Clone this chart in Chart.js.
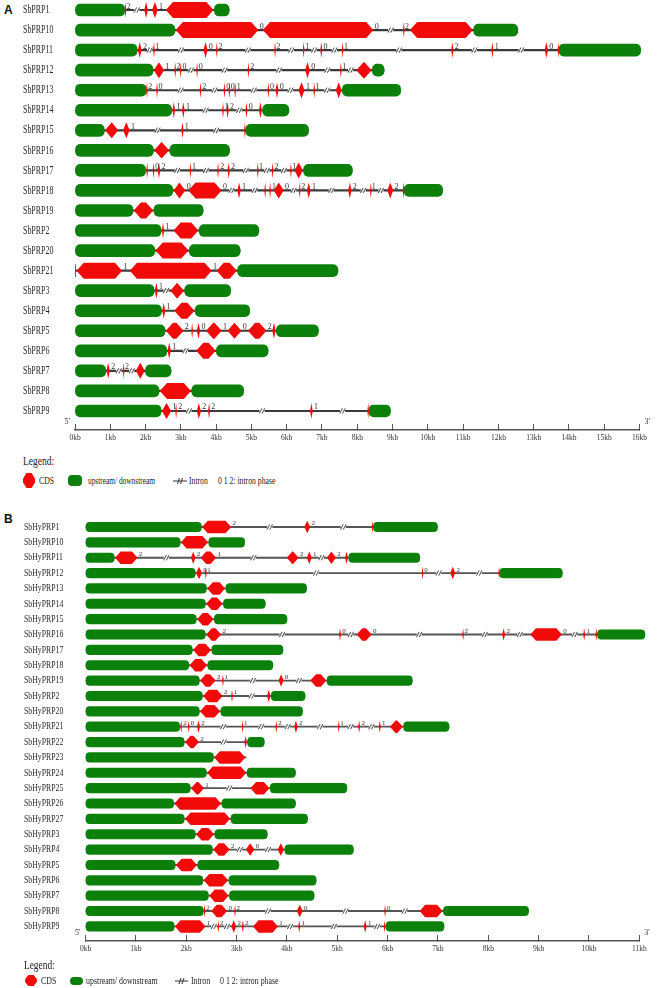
<!DOCTYPE html>
<html>
<head>
<meta charset="utf-8">
<title>SbPRP / SbHyPRP gene structures</title>
<script src="https://cdn.jsdelivr.net/npm/chart.js@4.4.1/dist/chart.umd.min.js"></script>
<style>
  body { margin: 0; background: #fff; }
  #page { position: relative; width: 657px; height: 988px; overflow: hidden; font-family: 'Liberation Serif', 'Times New Roman', serif; color: #222; }
  canvas { position: absolute; left: 0; }
  .tag { position: absolute; left: 4px; font: bold 12px 'Liberation Sans', Arial, sans-serif; color: #111; line-height: 1; }
  .t { position: absolute; white-space: nowrap; transform-origin: 0 50%; line-height: 1; color: #222; }
  .hex { position: absolute; background: #f20a0a; clip-path: polygon(28% 0, 72% 0, 100% 38%, 100% 62%, 72% 100%, 28% 100%, 0 62%, 0 38%); }
  .utr { position: absolute; background: #0b800b; border-radius: 4px; }
  .intr { position: absolute; }
</style>
</head>
<body>
<div id="page">
  <div class="tag" style="top:4px">A</div>
  <canvas id="chartA" width="657" height="448" style="top:0"></canvas>

  <div class="t" style="left:23px;top:454px;font-size:13px;transform:scaleX(.73)">Legend:</div>
  <div class="hex" style="left:23px;top:473px;width:12px;height:15px"></div>
  <div class="t" style="left:39px;top:475px;font-size:11px;transform:scaleX(.7)">CDS</div>
  <div class="utr" style="left:68px;top:475px;width:14px;height:11px"></div>
  <div class="t" style="left:88px;top:475px;font-size:11px;transform:scaleX(.67)">upstream/ downstream</div>
  <svg class="intr" style="left:173px;top:477px" width="14" height="8"><line x1="0" y1="4" x2="14" y2="4" stroke="#333" stroke-width="1"/><line x1="4.5" y1="7" x2="6.5" y2="1" stroke="#333"/><line x1="7.5" y1="7" x2="9.5" y2="1" stroke="#333"/></svg>
  <div class="t" style="left:189px;top:475px;font-size:11px;transform:scaleX(.7)">Intron</div>
  <div class="t" style="left:218px;top:475px;font-size:11px;transform:scaleX(.7)">0 1 2: intron phase</div>

  <div class="tag" style="top:513px">B</div>
  <canvas id="chartB" width="657" height="454" style="top:505px"></canvas>

  <div class="t" style="left:24px;top:959px;font-size:12px;transform:scaleX(.78)">Legend:</div>
  <div class="hex" style="left:25px;top:975px;width:12px;height:11px"></div>
  <div class="t" style="left:41px;top:976px;font-size:10.5px;transform:scaleX(.75)">CDS</div>
  <div class="utr" style="left:70px;top:977px;width:13px;height:8px"></div>
  <div class="t" style="left:86px;top:976px;font-size:10.5px;transform:scaleX(.75)">upstream/ downstream</div>
  <svg class="intr" style="left:175px;top:977px" width="13" height="8"><line x1="0" y1="4" x2="13" y2="4" stroke="#333" stroke-width="1"/><line x1="4" y1="7" x2="6" y2="1" stroke="#333"/><line x1="7" y1="7" x2="9" y2="1" stroke="#333"/></svg>
  <div class="t" style="left:191px;top:976px;font-size:10.5px;transform:scaleX(.75)">Intron</div>
  <div class="t" style="left:220px;top:976px;font-size:10.5px;transform:scaleX(.75)">0 1 2: intron phase</div>
</div>

<script>
// ---- panel A : SbPRP genes (positions in kb) ----
const namesA = ['SbPRP1', 'SbPRP10', 'SbPRP11', 'SbPRP12', 'SbPRP13', 'SbPRP14', 'SbPRP15', 'SbPRP16', 'SbPRP17', 'SbPRP18',
  'SbPRP19', 'SbPRP2', 'SbPRP20', 'SbPRP21', 'SbPRP3', 'SbPRP4', 'SbPRP5', 'SbPRP6', 'SbPRP7', 'SbPRP8', 'SbPRP9'];

const utrA = [
  [[0, 1.41], [3.95, 4.37]],
  [[0, 2.83], [11.30, 12.55]],
  [[0, 1.76], [13.72, 16.03]],
  [[0, 2.21], [8.43, 8.76]],
  [[0, 2.02], [7.58, 9.23]],
  [[0, 2.74], [5.32, 6.06]],
  [[0, 0.83], [4.84, 6.62]],
  [[0, 2.22], [2.69, 4.38]],
  [[0, 2.00], [6.48, 7.86]],
  [[0, 2.77], [9.33, 10.42]],
  [[0, 1.64], [2.24, 3.63]],
  [[0, 2.44], [3.52, 5.21]],
  [[0, 2.26], [3.24, 4.68]],
  [[0, 0.02], [4.61, 7.45]],
  [[0, 2.24], [3.11, 4.41]],
  [[0, 2.45], [3.41, 4.95]],
  [[0, 2.55], [5.71, 6.90]],
  [[0, 2.60], [4.01, 5.47]],
  [[0, 0.87], [2.00, 2.72]],
  [[0, 2.38], [3.31, 4.78]],
  [[0, 2.44], [8.33, 8.94]]
];

const cdsA = [
  [[1.41, 1.45], [1.94, 2.09], [2.16, 2.37], [2.55, 3.95]],
  [[2.83, 5.22], [5.30, 8.48], [9.30, 9.34], [9.47, 11.30]],
  [[1.76, 1.91], [2.21, 2.27], [3.62, 3.78], [3.99, 4.05], [5.64, 5.70], [6.45, 6.51], [6.93, 7.03], [7.56, 7.61], [10.64, 10.75], [11.78, 11.88], [13.29, 13.43], [13.68, 13.72]],
  [[2.21, 2.55], [2.82, 2.86], [2.96, 3.03], [3.43, 3.49], [4.88, 4.95], [6.50, 6.68], [7.51, 7.56], [7.95, 8.43]],
  [[2.02, 2.06], [2.30, 2.35], [3.52, 3.59], [4.20, 4.27], [4.35, 4.40], [4.51, 4.57], [5.45, 5.51], [5.66, 5.79], [6.31, 6.53], [6.76, 6.80], [7.37, 7.58]],
  [[2.74, 2.86], [3.01, 3.13], [4.16, 4.23], [4.27, 4.38], [4.81, 4.91], [5.19, 5.32]],
  [[0.83, 1.25], [1.34, 1.57], [2.99, 3.10], [4.79, 4.84]],
  [[2.22, 2.69]],
  [[2.00, 2.09], [2.19, 2.26], [2.32, 2.44], [3.24, 3.30], [4.01, 4.10], [4.30, 4.41], [5.16, 5.20], [5.56, 5.64], [6.09, 6.15], [6.20, 6.48]],
  [[2.77, 3.15], [3.19, 4.18], [4.58, 4.72], [5.35, 5.43], [5.49, 5.57], [5.61, 5.94], [6.34, 6.40], [6.55, 6.70], [7.72, 7.86], [8.37, 8.40], [8.83, 9.04], [9.29, 9.33]],
  [[1.64, 2.24]],
  [[2.44, 2.55], [2.77, 3.52]],
  [[2.26, 3.24]],
  [[0.02, 1.36], [1.53, 3.90], [3.99, 4.61]],
  [[2.24, 2.37], [2.68, 3.11]],
  [[2.45, 2.58], [2.79, 3.41]],
  [[2.55, 3.10], [3.30, 3.34], [3.43, 3.57], [3.69, 4.18], [4.30, 4.74], [4.88, 5.45], [5.57, 5.71]],
  [[2.60, 2.74], [3.41, 4.01]],
  [[0.87, 1.01], [1.36, 1.40], [1.70, 2.00]],
  [[2.38, 3.31]],
  [[2.44, 2.75], [2.82, 2.91], [3.43, 3.59], [3.75, 3.85], [6.64, 6.76], [8.29, 8.33]]
];

const phaseA = [
  [2, '', 1], [0, 0, 2], [2, 1, 0, 2, 2, 1, 0, 1, 2, 1, 0], [1, 2, 0, 0, 2, 0, 1],
  [2, 0, 2, 0, 0, 1, 0, 0, 1, 1], [1, 1, 1, 2, 0], ['', 1, 1], [],
  ['', 0, 2, 1, 2, 2, 1, 2, 1], [0, 0, 1, '', 1, 0, 2, 1, 2, 1, 2], [], [1], [], [1, 1],
  [1], [1], [2, '', 0, 1, 0, 2], [1], [2, 2], [], [1, 2, 2, 2, 1]
];

const kbA = [0, 1, 2, 3, 4, 5, 6, 7, 8, 9, 10, 11, 12, 13, 14, 15, 16];

// ---- panel B : SbHyPRP genes ----
const namesB = ['SbHyPRP1', 'SbHyPRP10', 'SbHyPRP11', 'SbHyPRP12', 'SbHyPRP13', 'SbHyPRP14', 'SbHyPRP15', 'SbHyPRP16',
  'SbHyPRP17', 'SbHyPRP18', 'SbHyPRP19', 'SbHyPRP2', 'SbHyPRP20', 'SbHyPRP21', 'SbHyPRP22', 'SbHyPRP23', 'SbHyPRP24',
  'SbHyPRP25', 'SbHyPRP26', 'SbHyPRP27', 'SbHyPRP3', 'SbHyPRP4', 'SbHyPRP5', 'SbHyPRP6', 'SbHyPRP7', 'SbHyPRP8', 'SbHyPRP9'];

const utrB = [
  [[0, 2.30], [5.72, 6.99]],
  [[0, 1.88], [2.45, 3.16]],
  [[0, 0.57], [5.23, 6.64]],
  [[0, 2.18], [8.23, 9.47]],
  [[0, 2.40], [2.79, 4.39]],
  [[0, 2.38], [2.74, 3.57]],
  [[0, 2.20], [2.56, 4.00]],
  [[0, 2.38], [10.17, 11.11]],
  [[0, 2.12], [2.51, 3.92]],
  [[0, 2.05], [2.43, 3.72]],
  [[0, 2.26], [4.80, 6.49]],
  [[0, 2.32], [3.69, 4.36]],
  [[0, 2.26], [2.69, 4.31]],
  [[0, 1.87], [6.32, 7.22]],
  [[0, 1.96], [3.22, 3.55]],
  [[0, 2.54]],
  [[0, 2.40], [3.21, 4.17]],
  [[0, 2.08], [3.67, 5.19]],
  [[0, 1.75], [2.71, 4.17]],
  [[0, 1.96], [2.89, 4.41]],
  [[0, 2.18], [2.57, 3.61]],
  [[0, 2.52], [3.96, 5.32]],
  [[0, 1.78], [2.23, 3.84]],
  [[0, 2.33], [2.85, 4.58]],
  [[0, 2.44], [2.86, 4.54]],
  [[0, 2.34], [7.11, 8.80]],
  [[0, 1.76], [5.97, 7.12]]
];

const cdsB = [
  [[2.30, 2.91], [4.33, 4.48], [5.68, 5.72]],
  [[1.88, 2.45]],
  [[0.57, 1.05], [2.08, 2.20], [2.27, 2.61], [3.98, 4.25], [4.38, 4.51], [4.78, 4.99], [5.14, 5.23]],
  [[2.18, 2.33], [2.37, 2.41], [6.67, 6.72], [7.23, 7.36], [8.20, 8.23]],
  [[2.40, 2.79]],
  [[2.38, 2.74]],
  [[2.20, 2.56]],
  [[2.38, 2.71], [5.02, 5.09], [5.37, 5.70], [7.48, 7.52], [8.26, 8.35], [8.82, 9.48], [9.87, 9.94], [10.12, 10.17]],
  [[2.12, 2.51]],
  [[2.05, 2.43]],
  [[2.26, 2.60], [2.71, 2.75], [3.82, 3.95], [4.45, 4.80]],
  [[2.32, 2.74], [2.89, 2.93], [3.59, 3.69]],
  [[2.26, 2.69]],
  [[1.87, 1.93], [2.02, 2.08], [2.20, 2.29], [3.10, 3.14], [3.76, 3.82], [4.13, 4.23], [5.01, 5.05], [5.40, 5.47], [5.81, 5.88], [6.03, 6.32]],
  [[1.96, 2.27], [3.14, 3.22]],
  [[2.54, 3.19]],
  [[2.40, 3.21]],
  [[2.08, 2.37], [3.26, 3.67]],
  [[1.75, 2.71]],
  [[1.96, 2.89]],
  [[2.18, 2.57]],
  [[2.52, 2.88], [3.17, 3.37], [3.80, 3.96]],
  [[1.78, 2.23]],
  [[2.33, 2.85]],
  [[2.44, 2.86]],
  [[2.34, 2.39], [2.48, 2.83], [2.95, 2.99], [4.18, 4.33], [5.92, 5.98], [6.62, 7.11]],
  [[1.76, 2.40], [2.62, 2.66], [2.88, 3.01], [3.09, 3.16], [3.31, 3.84], [4.21, 4.28], [5.51, 5.60], [5.91, 5.97]]
];

const phaseB = [
  [2, 2], [], [2, 2, 1, 2, 1, 2], [0, 1, 0, 2], [], [], [], [2, 0, 0, 2, 2, 0, 1], [], [],
  [2, 1, 0], [2, 1], [], [2, 0, 2, 1, 2, 2, 1, 2, 1], [2], [], [], [1], [], [], [], [2, 0], [], [], [],
  [2, 0, 2, 0, 0], [1, 2, 2, 2, 1, 1, 1]
];

const kbB = [0, 1, 2, 3, 4, 5, 6, 7, 8, 9, 10, 11];

const GREEN = '#0b800b';
const RED = '#f20a0a';
const SERIF = "'Liberation Serif', 'Times New Roman', serif";

function hex(ctx, x0, x1, cy, h) {
  let l = Math.min(x0, x1) + 0.8, r = Math.max(x0, x1) - 0.8;
  if (r - l < 1.6) { const m = (l + r) / 2; l = m - 0.8; r = m + 0.8; }
  const tip = Math.min(h * 0.45, (r - l) / 2);
  ctx.beginPath();
  ctx.moveTo(l, cy);
  ctx.lineTo(l + tip, cy - h / 2);
  ctx.lineTo(r - tip, cy - h / 2);
  ctx.lineTo(r, cy);
  ctx.lineTo(r - tip, cy + h / 2);
  ctx.lineTo(l + tip, cy + h / 2);
  ctx.closePath();
  ctx.fill();
}

function slashes(ctx, mx, cy, color) {
  ctx.fillStyle = '#fff';
  ctx.fillRect(mx - 2.6, cy - 1.2, 5.2, 2.4);
  ctx.strokeStyle = color;
  ctx.lineWidth = 0.9;
  [-1.4, 1.4].forEach(o => {
    ctx.beginPath();
    ctx.moveTo(mx + o - 1.3, cy + 2.6);
    ctx.lineTo(mx + o + 1.3, cy - 2.6);
    ctx.stroke();
  });
}

function geneChart(id, names, utr, cds, phase, kbTicks, st) {
  const datasets = [];
  datasets.push({
    label: 'Intron',
    data: names.map((n, i) => {
      const all = utr[i].concat(cds[i]);
      return { x: [Math.min(...all.map(s => s[0])), Math.max(...all.map(s => s[1]))], y: i };
    }),
    backgroundColor: st.intronColor,
    barThickness: st.intronH,
    grouped: false,
    clip: false,
    order: 3
  });
  const maxU = Math.max(...utr.map(u => u.length));
  for (let k = 0; k < maxU; k++) {
    datasets.push({
      label: 'UTR',
      data: names.map((n, i) => utr[i][k] ? { x: utr[i][k], y: i } : null).filter(Boolean),
      backgroundColor: GREEN,
      barThickness: st.utrH,
      borderRadius: st.radius,
      borderSkipped: false,
      grouped: false,
      clip: false,
      order: 2
    });
  }
  const maxC = Math.max(...cds.map(c => c.length));
  for (let k = 0; k < maxC; k++) {
    datasets.push({
      label: 'CDS',
      isCds: true,
      data: names.map((n, i) => cds[i][k] ? { x: cds[i][k], y: i } : null).filter(Boolean),
      backgroundColor: 'rgba(0,0,0,0)',
      barThickness: st.cdsH,
      grouped: false,
      clip: false,
      order: 1
    });
  }

  const genePlugin = {
    id: 'genes',
    afterDatasetsDraw(chart) {
      const ctx = chart.ctx, xs = chart.scales.x, ys = chart.scales.y;
      ctx.save();
      ctx.fillStyle = RED;
      chart.data.datasets.forEach((ds, di) => {
        if (!ds.isCds) return;
        chart.getDatasetMeta(di).data.forEach(el => {
          const p = el.getProps(['x', 'y', 'base', 'height'], true);
          hex(ctx, p.base, p.x, p.y, p.height);
        });
      });
      names.forEach((n, i) => {
        const feats = utr[i].concat(cds[i]).sort((a, b) => a[0] - b[0]);
        const cy = ys.getPixelForValue(i);
        let pi = 0;
        for (let j = 1; j < feats.length; j++) {
          const g0 = xs.getPixelForValue(feats[j - 1][1]);
          const g1 = xs.getPixelForValue(feats[j][0]);
          if (g1 - g0 < 0.5) continue;
          const ph = phase[i][pi++];
          if (g1 - g0 > 10) slashes(ctx, (g0 + g1) / 2 + 2, cy, '#333');
          if (ph !== '' && ph !== undefined) {
            ctx.fillStyle = '#333';
            ctx.font = st.phaseFont + 'px ' + SERIF;
            ctx.textBaseline = 'alphabetic';
            ctx.textAlign = 'left';
            ctx.fillText(String(ph), g0 + 0.5, cy - 1.5);
          }
        }
      });
      ctx.restore();
    },
    afterDraw(chart) {
      const ctx = chart.ctx, xs = chart.scales.x, ys = chart.scales.y;
      ctx.save();
      ctx.fillStyle = '#2a2a2a';
      ctx.textBaseline = 'middle';
      ctx.textAlign = 'left';
      ctx.font = st.labelFont + 'px ' + SERIF;
      names.forEach((n, i) => {
        ctx.save();
        ctx.translate(st.labelX, ys.getPixelForValue(i));
        ctx.scale(st.labelScale, 1);
        ctx.fillText(n, 0, 0);
        ctx.restore();
      });
      ctx.font = '8px ' + SERIF;
      ctx.fillStyle = '#333';
      ctx.textBaseline = 'bottom';
      ctx.textAlign = 'right';
      ctx.fillText("5'", xs.left - 5, xs.top - 4);
      ctx.textAlign = 'left';
      ctx.fillText("3'", xs.right + 5, xs.top - 4);
      ctx.restore();
    }
  };

  return new Chart(document.getElementById(id), {
    type: 'bar',
    data: { datasets },
    options: {
      indexAxis: 'y',
      responsive: false,
      animation: false,
      events: [],
      layout: { padding: { left: st.left, right: st.right, top: st.top, bottom: 0 } },
      plugins: { legend: { display: false }, tooltip: { enabled: false } },
      scales: {
        y: { type: 'linear', reverse: true, offset: false, min: -0.5, max: st.yMax, display: false },
        x: {
          type: 'linear',
          min: kbTicks[0],
          max: kbTicks[kbTicks.length - 1],
          afterBuildTicks: s => { s.ticks = kbTicks.map(v => ({ value: v })); },
          afterFit: s => { s.height = st.axisH; },
          ticks: {
            callback: v => v + 'kb',
            font: { family: SERIF, size: 7.5 },
            color: '#333',
            padding: 10,
            maxRotation: 0,
            autoSkip: false
          },
          grid: { drawOnChartArea: false, tickLength: -6, color: '#555', lineWidth: 1 },
          border: { color: '#555', width: 1.5 }
        }
      }
    },
    plugins: [genePlugin]
  });
}

geneChart('chartA', namesA, utrA, cdsA, phaseA, kbA, {
  left: 75, right: 14, top: 0, yMax: 20.95, axisH: 18,
  utrH: 12, cdsH: 16, intronH: 1.5, radius: 5, intronColor: '#3a3a3a',
  labelX: 23, labelFont: 12, labelScale: 0.66, phaseFont: 8
});

geneChart('chartB', namesB, utrB, cdsB, phaseB, kbB, {
  left: 85.5, right: 17.7, top: 14.3, yMax: 26.95, axisH: 18,
  utrH: 9.5, cdsH: 12.5, intronH: 1.2, radius: 4, intronColor: '#555',
  labelX: 24, labelFont: 10.5, labelScale: 0.74, phaseFont: 7
});
</script>
</body>
</html>
